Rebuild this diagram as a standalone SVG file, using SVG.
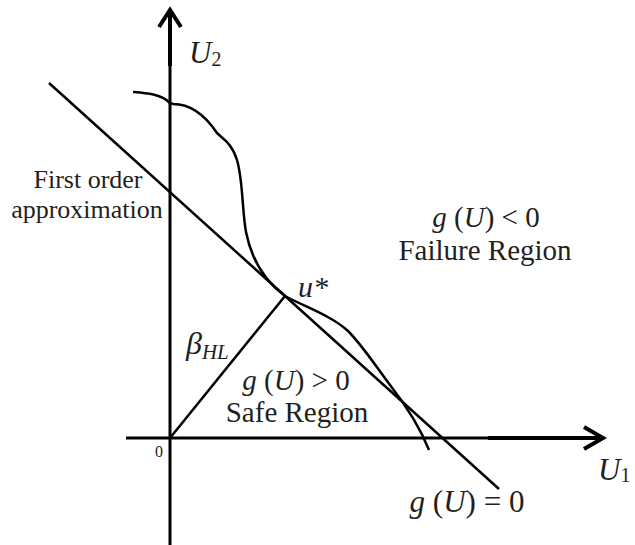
<svg xmlns="http://www.w3.org/2000/svg" width="635" height="545" viewBox="0 0 635 545">
<style>
.ln{fill:none;stroke:#000;stroke-width:2.5;stroke-linecap:butt}
.ax{fill:none;stroke:#000;stroke-width:3}
.ah{fill:none;stroke:#000;stroke-width:4;stroke-linecap:butt;stroke-linejoin:miter}
text{font-family:"Liberation Serif","Times New Roman",serif;fill:#231f20}
.it{font-style:italic}
</style>
<rect width="635" height="545" fill="#fff"/>
<g id="axes">
<line class="ax" x1="170" y1="545" x2="170" y2="65"/>
<line class="ah" x1="170" y1="66" x2="170" y2="10"/>
<polyline class="ah" points="159,27 170,10 181,27"/>
<line class="ax" x1="126" y1="438" x2="490" y2="438"/>
<line class="ah" x1="488" y1="438" x2="603" y2="438"/>
<polyline class="ah" points="584,427 603,438 584,449"/>
</g>
<g id="connectors">
<line id="tangent" class="ln" x1="49" y1="83" x2="499" y2="489"/>
<line id="beta" class="ln" x1="170" y1="438" x2="285" y2="296"/>
<path id="limit-state" class="ln" d="M133,92 C146,93 161,94 170,103 L173,104 C190,104 205,115 217,133 C222,138 232,143 237,160 C243,180 242,210 246,232 C252,262 266,282 285,296 C305,307 332,316 348,331 C362,345 375,365 390,385 C408,408 421,430 429,450"/>
</g>
<g id="labels">
<text x="189" y="63" font-size="31" class="it">U<tspan font-size="20" font-style="normal" dy="3">2</tspan></text>
<text x="88" y="188" font-size="26" text-anchor="middle">First order</text>
<text x="87" y="218" font-size="26" text-anchor="middle">approximation</text>
<text x="486" y="227" font-size="29" text-anchor="middle"><tspan class="it">g</tspan> (<tspan class="it">U</tspan>) &lt; 0</text>
<text x="485" y="260" font-size="29" text-anchor="middle">Failure Region</text>
<text x="298" y="297" font-size="30" class="it">u*</text>
<text x="186" y="354" font-size="32" class="it">β<tspan font-size="21" dy="5">HL</tspan></text>
<text x="296" y="390" font-size="29" text-anchor="middle"><tspan class="it">g</tspan> (<tspan class="it">U</tspan>) &gt; 0</text>
<text x="297" y="422" font-size="29" text-anchor="middle">Safe Region</text>
<text x="155" y="457" font-size="16">0</text>
<text x="598" y="480" font-size="31" class="it">U<tspan font-size="20" font-style="normal" dy="2">1</tspan></text>
<text x="467" y="512" font-size="31" text-anchor="middle"><tspan class="it">g</tspan> (<tspan class="it">U</tspan>) = 0</text>
</g>
</svg>
